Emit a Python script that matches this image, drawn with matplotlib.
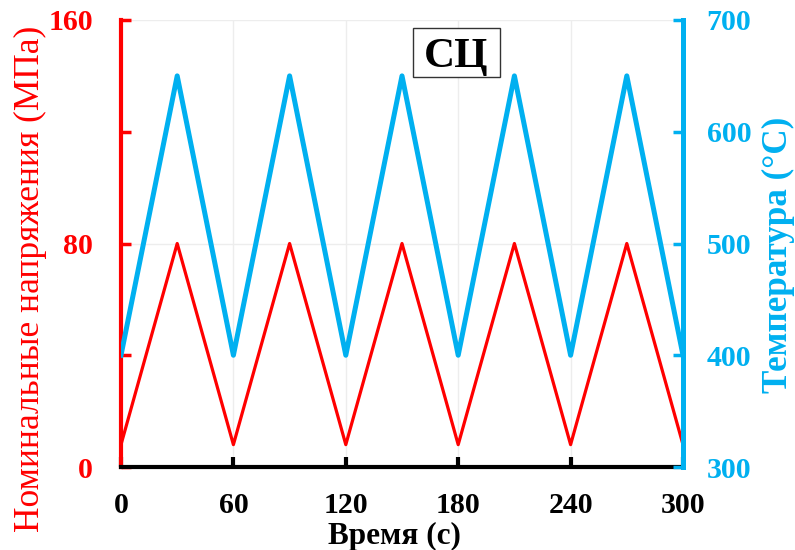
import matplotlib
matplotlib.use("Agg")
import matplotlib.pyplot as plt
from matplotlib.ticker import MultipleLocator
from matplotlib.patches import Rectangle

time_s = [0, 30, 60, 90, 120, 150, 180, 210, 240, 270, 300]
stress_mpa = [8, 80, 8, 80, 8, 80, 8, 80, 8, 80, 8]
temp_c = [400, 650, 400, 650, 400, 650, 400, 650, 400, 650, 400]
x_ticks = [0, 60, 120, 180, 240, 300]
left_ticks = [0, 80, 160]
right_ticks = [300, 400, 500, 600, 700]

RED = "#ff0000"
BLUE = "#00b0f0"
SERIF = ["Liberation Serif", "DejaVu Serif"]

plt.rcParams["font.family"] = SERIF

fig = plt.figure(figsize=(7.95, 5.5), dpi=100)
ax = fig.add_axes([121/795, 1-467/550, (683-121)/795, (467-20)/550])
ax2 = ax.twinx()

ax.set_xlim(0, 300)
ax.set_ylim(0, 160)
ax2.set_ylim(300, 700)

ax.grid(True, which="major", color="#ededed", linewidth=1.0)
ax.set_axisbelow(True)

ax.plot(time_s, stress_mpa, color=RED, linewidth=2.3, zorder=3)
ax2.plot(time_s, temp_c, color=BLUE, linewidth=3.6, zorder=3)

ax.set_xticks(x_ticks)
ax.set_yticks(left_ticks)
ax.yaxis.set_minor_locator(MultipleLocator(40))
ax2.set_yticks(right_ticks)

for a in (ax, ax2):
    for s in a.spines.values():
        s.set_visible(False)
ax.spines["left"].set_visible(True)
ax.spines["left"].set_color(RED)
ax.spines["left"].set_linewidth(3.0)
ax.spines["bottom"].set_visible(True)
ax.spines["bottom"].set_color("black")
ax.spines["bottom"].set_linewidth(3.0)
ax2.spines["right"].set_visible(True)
ax2.spines["right"].set_color(BLUE)
ax2.spines["right"].set_linewidth(3.6)

ax.tick_params(axis="x", direction="in", length=7, width=3, colors="black",
               labelsize=21.5, pad=18)
ax.tick_params(axis="y", which="both", direction="in", length=7, width=2.5,
               colors=RED, labelsize=21.5, pad=20)
ax2.tick_params(axis="y", direction="in", length=7, width=2.5, colors=BLUE,
                labelsize=21.5, pad=17)
for lab in ax.get_xticklabels() + ax.get_yticklabels() + ax2.get_yticklabels():
    lab.set_fontweight("bold")

ax.set_xlabel("Время (с)", fontsize=22.5, fontweight="bold")
ax.xaxis.set_label_coords(0.486, -0.122)
ax.set_ylabel("Номинальные напряжения (МПа)", fontsize=25.5, color=RED)
ax.yaxis.set_label_coords(-0.1317, 0.42)
ax2.set_ylabel("Температура (°C)", fontsize=25.3, color=BLUE, fontweight="bold")
ax2.yaxis.set_label_coords(1.1406, 0.475)

ax.add_patch(Rectangle((155.9, 139.6), 46.4, 17.5, facecolor="white",
                       edgecolor="#333333", linewidth=1.0, zorder=5))
ax.text(179.1, 143.3, "СЦ", fontsize=31, fontweight="bold", ha="center",
        va="baseline", zorder=6)

fig.savefig("out.png", dpi=100, facecolor="white")
